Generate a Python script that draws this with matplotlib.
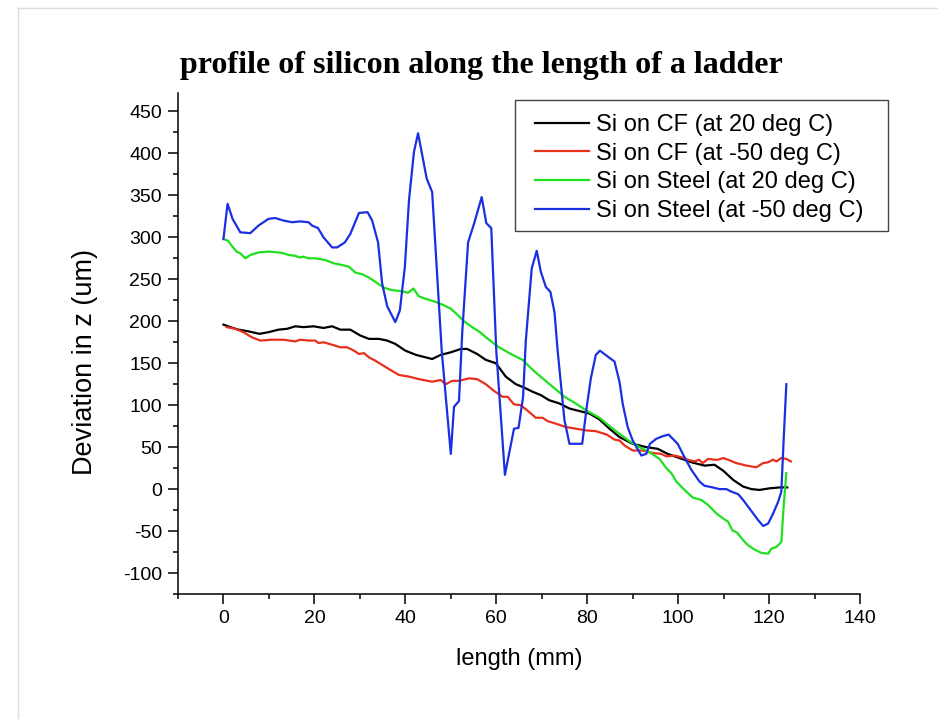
import matplotlib
matplotlib.use("Agg")
import matplotlib.pyplot as plt
from matplotlib.lines import Line2D
from matplotlib.patches import Rectangle
from matplotlib.ticker import MultipleLocator

# Si on CF (at 20 deg C)
cf20_x = [0, 1.5, 3.3, 5.5, 7.9, 9.9, 12.1, 14, 15.8, 17.6, 19.8, 22, 23.9, 25.7, 27.9,
          30.1, 32, 34.2, 36, 37.8, 40, 42.3, 45.9, 47.8, 50, 52.2, 53.6, 55.8, 57.7,
          59.9, 62.1, 64.3, 66.1, 68, 69.8, 71.6, 73.9, 76.1, 78.3, 80.5, 82.7, 84.9,
          87.1, 90, 93, 95.5, 97.7, 100.3, 102.9, 105.8, 108, 109.9, 112.1, 114.3,
          116.1, 117.9, 120.2, 122.4, 124]
cf20_y = [196, 193, 190, 188, 185, 187, 190, 191, 194, 193, 194, 192, 194, 190, 190,
          183, 179, 179, 177, 173, 165, 160, 155, 160, 163, 167, 167, 161, 154,
          150, 134, 125, 121, 116, 112, 106, 102, 96, 93, 90, 83, 72,
          62, 54, 50, 48, 42, 37, 32, 28, 29, 22, 11, 3,
          0, -1, 1, 2, 2]

# Si on CF (at -50 deg C)
cf50_x = [0.7, 2.6, 4.4, 6.2, 8.1, 10.6, 13.2, 15.8, 16.9, 18.7, 20.2, 20.9, 22, 23.9,
          25.7, 27.2, 28.7, 29.8, 30.9, 32, 33.4, 34.9, 36.4, 38.6, 40.8, 43, 45.9,
          47.8, 48.9, 50.3, 51.8, 54, 55.8, 57.7, 59.5, 61.4, 62.5, 63.9, 65.4, 67.2,
          68.7, 70.2, 71.3, 73.1, 75.3, 77.5, 79.7, 81.9, 84.3, 86, 87.1, 88.2, 90,
          92.2, 94.4, 96.3, 97.4, 99.2, 100.7, 102.1, 103.6, 104.6, 105.4, 106.6, 108,
          108.8, 109.9, 111, 112.8, 115, 117.2, 118.7, 119.8, 120.9, 121.6, 122.7,
          123.8, 124.8]
cf50_y = [193, 191, 187, 181, 177, 178, 178, 176, 178, 177, 177, 174, 175, 172,
          169, 169, 165, 161, 162, 157, 153, 148, 143, 136, 134, 131, 128,
          130, 125, 129, 129, 132, 131, 125, 117, 110, 110, 101, 100, 92,
          85, 85, 81, 78, 74, 72, 70, 69, 65, 59, 58, 52, 46,
          46, 43, 42, 39, 40, 38, 35, 33, 35, 31, 36, 35,
          35, 37, 35, 31, 28, 26, 31, 32, 35, 33, 37,
          36, 33]

# Si on Steel (at 20 deg C)
st20_x = [0, 1, 1.8, 2.9, 3.7, 4.8, 5.9, 7.7, 9.9, 12.1, 13.2, 14.3, 15.8, 16.7, 17.6,
          18.7, 20.2, 22.4, 24.3, 26.1, 27.6, 29, 30.5, 32, 33.4, 35.3, 37.1, 39,
          40.6, 41.8, 42.9, 44.3, 46.7, 48.5, 50, 51.4, 52.9, 54.7, 56.4, 58.4, 60.3,
          63.2, 65.8, 68, 70.2, 72.4, 75, 77.5, 79.7, 82.7, 84.9, 87.1, 89.3, 91.5,
          93.7, 95.9, 97.4, 98.5, 99.6, 101.4, 103.2, 105.1, 106.6, 108.4, 109.9, 111,
          111.9, 113, 114.3, 115.4, 116.8, 118.3, 119.8, 120.5, 121.6, 122.7, 123.2,
          123.8]
st20_y = [298, 296, 290, 283, 281, 275, 279, 282, 283, 282, 281, 279, 278, 276, 277,
          275, 275, 273, 269, 267, 265, 258, 256, 252, 247, 240, 237, 236,
          234, 239, 230, 227, 223, 219, 215, 208, 200, 193, 187, 178, 170,
          161, 154, 142, 132, 122, 110, 102, 94, 85, 75, 66, 57, 50,
          44, 36, 25, 19, 9, -1, -10, -13, -19, -29, -35, -39,
          -49, -52, -61, -67, -72, -76, -77, -71, -69, -63, -21,
          19]

# Si on Steel (at -50 deg C)
st50_x = [0, 0.9, 2, 3.7, 5.9, 7.7, 9.9, 11.4, 13.2, 15.1, 16.9, 18.7, 19.5, 20.8, 22,
          23.9, 25, 26.7, 27.9, 29.8, 31.7, 32.7, 34, 34.9, 36, 37.8, 38.8, 39.9,
          40.8, 41.9, 42.8, 44.7, 45.9, 48, 50, 50.7, 51.8, 52.5, 53.8, 55.1, 56.8,
          57.8, 58.9, 60, 61.9, 63.9, 64.9, 65.9, 66.5, 67.8, 68.9, 69.8, 70.9, 71.9,
          72.8, 73.5, 75, 76.1, 78.9, 79.9, 80.8, 81.9, 82.8, 84.5, 86, 87.1, 87.8,
          88.9, 90, 91.9, 93, 93.8, 95.2, 96.6, 97.9, 98.8, 99.9, 101.4, 102.9,
          104.7, 105.8, 107.6, 109.1, 110.6, 111.7, 113.2, 114.3, 115.4, 116.5,
          117.6, 118.7, 119.8, 120.9, 122, 122.7, 123.2, 123.8]
st50_y = [298, 340, 322, 306, 305, 314, 322, 323, 320, 318, 319, 318, 314, 311, 300,
          288, 288, 294, 304, 329, 330, 320, 294, 245, 218, 199, 213, 265,
          344, 402, 424, 370, 354, 165, 42, 98, 105, 185, 294, 316, 348,
          317, 311, 165, 17, 72, 73, 110, 177, 263, 284, 259, 241, 235,
          211, 165, 82, 54, 54, 98, 132, 160, 165, 158, 152, 128, 102,
          74, 58, 40, 42, 54, 60, 63, 65, 60, 54, 38, 23,
          9, 4, 2, 0, 0, -3, -6, -13, -21, -29,
          -37, -44, -41, -29, -15, -3, 58, 125]

labels = ["Si on CF (at 20 deg C)", "Si on CF (at -50 deg C)",
          "Si on Steel (at 20 deg C)", "Si on Steel (at -50 deg C)"]

plt.rcParams['font.family'] = ['Liberation Sans', 'DejaVu Sans']
plt.rcParams['axes.unicode_minus'] = False

fig = plt.figure(figsize=(9.38, 7.19), dpi=100)
ax = fig.add_axes([178/938, 1 - 594/719, (860 - 178)/938, (594 - 93)/719])

lw = 1.6
ax.plot(cf20_x, cf20_y, color='black', lw=lw, label=labels[0])
ax.plot(cf50_x, cf50_y, color='#e8301c', lw=lw, label=labels[1])
ax.plot(st20_x, st20_y, color='#1ee01e', lw=lw, label=labels[2])
ax.plot(st50_x, st50_y, color='#1a30e0', lw=lw, label=labels[3])

ax.set_xlim(-10, 140)
ax.set_ylim(-125, 472)
ax.xaxis.set_minor_locator(MultipleLocator(10))
ax.yaxis.set_minor_locator(MultipleLocator(25))
ax.set_xticks(range(0, 141, 20))
ax.set_yticks(range(-100, 451, 50))
ax.tick_params(which='major', direction='out', length=7.5, width=1.1, labelsize=14, pad=4)
ax.tick_params(which='minor', direction='out', length=3.8, width=1.1)
for s in ['top', 'right']:
    ax.spines[s].set_visible(False)
for s in ['left', 'bottom']:
    ax.spines[s].set_linewidth(1.1)

ax.set_xlabel("length (mm)", fontsize=17, labelpad=15)
ax.set_ylabel("Deviation in z (um)", fontsize=19.5)
ax.yaxis.set_label_coords((98 - 178) / 682, (594 - 362) / 501)

fig.text(481/938, 1 - 65/719, "profile of silicon along the length of a ladder",
         family='Liberation Serif', weight='bold', fontsize=23, ha='center', va='center')

# legend entries without frame, box drawn separately
leg = fig.legend(loc='upper left', bbox_to_anchor=(535/938, 1 - 114/719),
                 fontsize=17, frameon=False, borderaxespad=0, borderpad=0,
                 handlelength=2.3, handletextpad=0.3, labelspacing=0.28)
fig.add_artist(Rectangle((515/938, 1 - 231/719), (888 - 515)/938, (231 - 100)/719,
                         transform=fig.transFigure, fill=False,
                         edgecolor='#444444', lw=1.0))

# light page border
fig.add_artist(Line2D([18/938, 1], [1 - 8/719, 1 - 8/719], color='#dddddd', lw=1))
fig.add_artist(Line2D([18/938, 18/938], [0, 1 - 8/719], color='#dddddd', lw=1))

fig.savefig("out.png", dpi=100)
